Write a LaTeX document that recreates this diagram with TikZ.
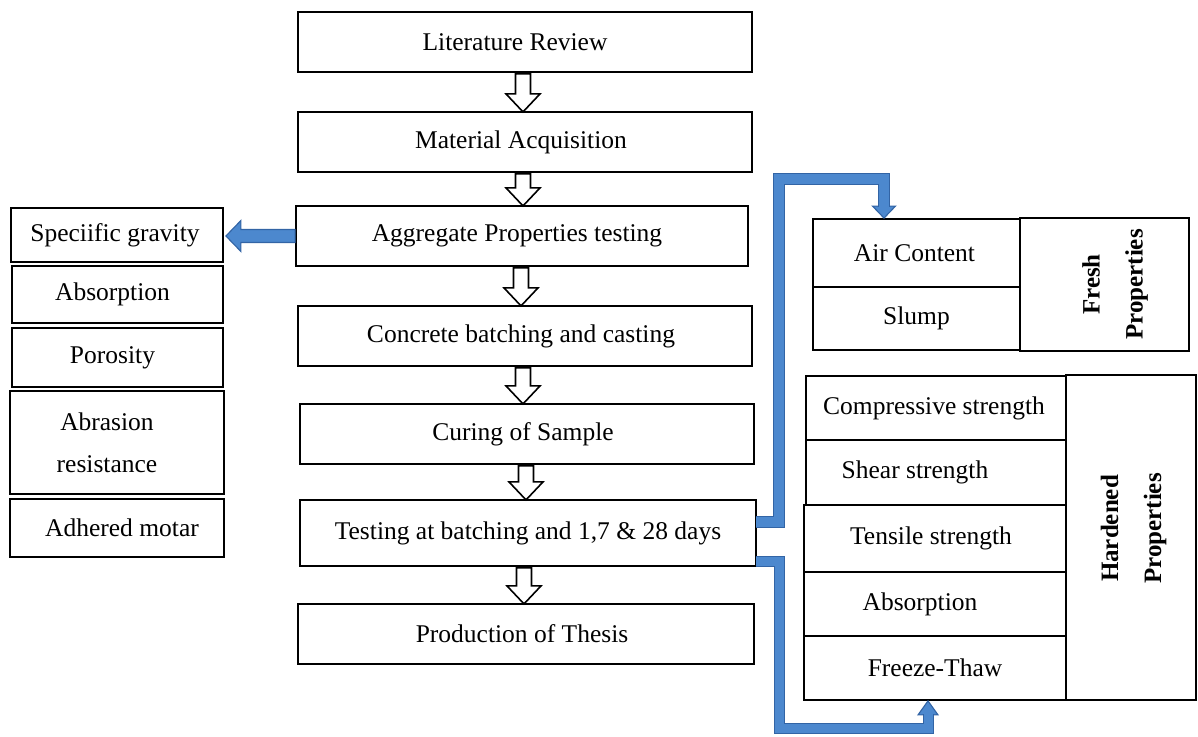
\documentclass[tikz,border=0pt]{standalone}
\usepackage{fontspec}
\setmainfont{Liberation Serif}
\usetikzlibrary{calc}
\definecolor{ltblue}{RGB}{76,136,206}
\definecolor{dkblue}{RGB}{50,100,165}
\newcommand\hdarrow[2]{%
  \draw[hollowarrow] ($(#1)+(-7.5,0)$) -- ++(15,0) -- ++(0,#2) -- ++(9.5,0) -- ++(-17,18) -- ++(-17,-18) -- ++(9.5,0) -- cycle;}
\newcommand\sh[1]{\hspace*{#1pt}}
\begin{document}
\begin{tikzpicture}[x=1pt,y=-1pt,
  box/.style={draw=black,line width=1.8pt,inner sep=0pt,font=\fontsize{25.5}{42}\selectfont,align=center},
  vbox/.style={box,rotate=90,font=\fontsize{25}{43}\selectfont\bfseries},
  hollowarrow/.style={draw=black,line width=1.6pt,fill=white,line join=miter},
  bluehead/.style={fill=ltblue,draw=dkblue,line width=1.1pt,line join=miter},
  bluepipe/.style={draw=dkblue,line width=1pt,double=ltblue,double distance=10pt,line join=miter}]
\useasboundingbox (0,0) rectangle (1198,736);
% main column
\node[box,minimum width=454pt,minimum height=60pt] (lit)  at (525,42)  {Literature Review\sh{20}};
\node[box,minimum width=454pt,minimum height=60pt] (mat)  at (525,142) {Material Acquisition\sh{8}};
\node[box,minimum width=452pt,minimum height=60pt] (agg)  at (522,236) {Aggregate Properties testing\sh{10}};
\node[box,minimum width=454pt,minimum height=60pt] (conc) at (525,336) {Concrete batching and casting\sh{8}};
\node[box,minimum width=454pt,minimum height=60pt] (cur)  at (527,434) {Curing of Sample\sh{8}};
\node[box,minimum width=456pt,minimum height=66pt] (test) at (528,533) {Testing at batching and 1,7 \& 28 days};
\node[box,minimum width=456pt,minimum height=60pt] (prod) at (526,634) {Production of Thesis\sh{8}};
% left column
\node[box,minimum width=212pt,minimum height=54pt]  (spec) at (117,235)   {Speciific gravity\sh{4}};
\node[box,minimum width=211pt,minimum height=57pt]  (absl) at (117.5,294.5) {Absorption\sh{10}};
\node[box,minimum width=211pt,minimum height=59pt]  (poro) at (117.5,357.5) {Porosity\sh{10}};
\node[box,minimum width=214pt,minimum height=103pt] (abra) at (117,442.5) {Abrasion\sh{20}\\resistance\sh{20}};
\node[box,minimum width=214pt,minimum height=58pt]  (adh)  at (117,528)   {\sh{10}Adhered motar};
% fresh properties
\node[box,minimum width=207pt,minimum height=68pt] (air)   at (916.5,253)   {Air Content\sh{4}};
\node[box,minimum width=207pt,minimum height=63pt] (slump) at (916.5,318.5) {Slump};
\node[vbox,minimum width=133pt,minimum height=169pt] (fresh) at (1104.5,284.5)
  {\raisebox{-8pt}[\height][\depth]{\begin{tabular}{@{}c@{}}Fresh\\Properties\end{tabular}}};
% hardened properties
\node[box,minimum width=260pt,minimum height=64pt] (comp)   at (936,408)   {Compressive strength\sh{4}};
\node[box,minimum width=260pt,minimum height=65pt] (shear)  at (936,472.5) {Shear strength\sh{42}};
\node[box,minimum width=262pt,minimum height=67pt] (tens)   at (935,538.5) {Tensile strength\sh{8}};
\node[box,minimum width=262pt,minimum height=64pt] (absr)   at (935,604)   {Absorption\sh{30}};
\node[box,minimum width=262pt,minimum height=64pt] (freeze) at (935,668)   {Freeze-Thaw};
\node[vbox,minimum width=325pt,minimum height=130pt] (hard) at (1131,537.5)
  {\sh{18}\begin{tabular}{@{}c@{}}Hardened\\Properties\end{tabular}};
% hollow down arrows
\coordinate (a1) at ($(lit.south)+(-2,1)$);  \hdarrow{a1}{20}
\coordinate (a2) at ($(mat.south)+(-2,1)$);  \hdarrow{a2}{14}
\coordinate (a3) at ($(agg.south)+(-1,1)$);  \hdarrow{a3}{20}
\coordinate (a4) at ($(conc.south)+(-2,1)$); \hdarrow{a4}{18}
\coordinate (a5) at ($(cur.south)+(-1,1)$);  \hdarrow{a5}{16}
\coordinate (a6) at ($(test.south)+(-4,1)$); \hdarrow{a6}{18}
% blue arrow to the left
\draw[bluehead] ($(spec.east)+(2,1)$) -- ++(15,-15.5) -- ++(0,9) -- ($(agg.west)+(0,-6.5)$) -- ++(0,13) -- ($(spec.east)+(17,7.5)$) -- ++(0,9) -- cycle;
% blue connector to fresh properties
\coordinate (t1) at (779,179);
\coordinate (t2) at (884,179);
\coordinate (ttip) at (t2 |- air.north);
\draw[bluehead] (ttip) -- ++(-11.5,-12) -- ++(23,0) -- cycle;
\draw[bluepipe] ($(test.east)+(-1,-11)$) -| (t1) -- (t2) -- ($(ttip)+(0,-11)$);
% blue connector to hardened properties
\coordinate (b1) at (779,728);
\coordinate (b2) at (928,728);
\coordinate (btip) at (b2 |- freeze.south);
\draw[bluehead] (btip) -- ++(-10,14) -- ++(20,0) -- cycle;
\draw[bluepipe,double distance=9pt] ($(test.east)+(-1,28)$) -| (b1) -- (b2) -- ($(btip)+(0,13)$);
\end{tikzpicture}
\end{document}
